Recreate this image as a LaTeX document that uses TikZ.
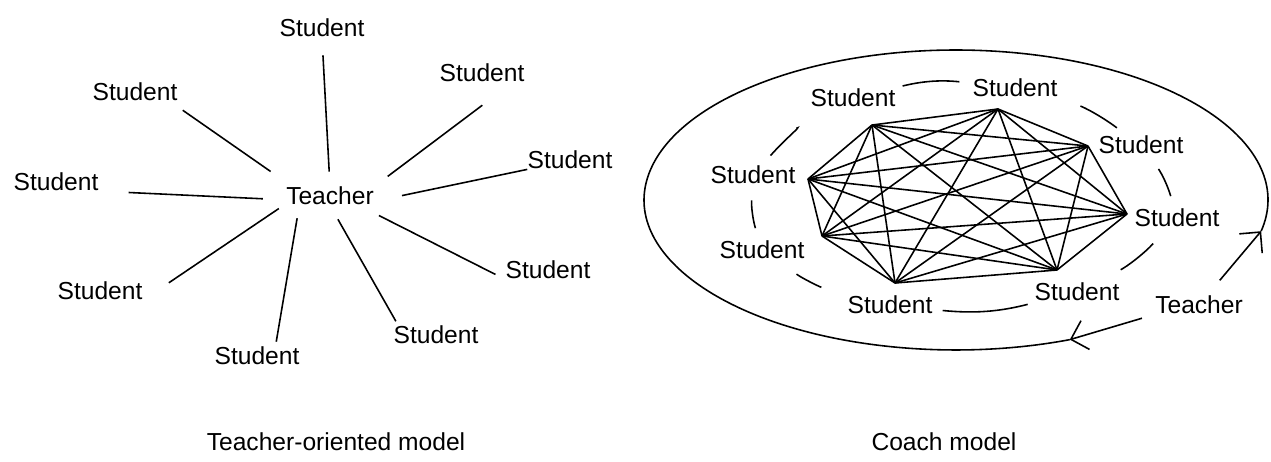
\documentclass[tikz,border=0pt]{standalone}
\usepackage{fontspec}
\setmainfont{Liberation Sans}
\usetikzlibrary{arrows.meta}

\begin{document}
\begin{tikzpicture}[x=0.02cm,y=-0.02cm,every node/.style={inner sep=0pt,font=\fontsize{14}{16}\selectfont}]
  \tikzstyle{spoke}=[line width=0.9pt]
  \tikzstyle{web}=[line width=0.9pt]
  \tikzstyle{ring}=[line width=0.9pt]
  \tikzstyle{arr}=[line width=0.9pt,-{Straight Barb[length=3mm,width=6mm]}]
  \useasboundingbox (0,0) rectangle (1271,461);

  % -- Teacher-oriented model: teacher in the middle, students round --
  \node (t) at (330,196) {Teacher};
  \node (s1) at (322,28) {Student};
  \node (s2) at (135,92) {Student};
  \node (s3) at (482,73) {Student};
  \node (s4) at (570,160) {Student};
  \node (s5) at (548,270) {Student};
  \node (s6) at (436,335) {Student};
  \node (s7) at (257,356) {Student};
  \node (s8) at (100,291) {Student};
  \node (s9) at (56,182) {Student};
  \foreach \a/\s/\b/\p/\q in {north/s1/south/3mm/3.6mm, 166/s2/-15/5.3mm/3.1mm,
      north east/s3/-17/3.4mm/7.6mm, -7/s4/south west/5.7mm/0mm,
      -18/s5/south west/4.5mm/2.2mm, south/s6/166/3.2mm/1mm,
      197/s7/27/2.6mm/1mm, 190/s8/south east/1.7mm/6.3mm,
      -175/s9/-12/4.6mm/6mm}
    \draw[spoke,shorten <=\p,shorten >=\q] (t.\a) -- (\s.\b);

  % -- Coach model: students in a ring, all linked --
  \node (stl) at (853,98) {Student};
  \node (st) at (1015,88) {Student};
  \node (sur) at (1141,145) {Student};
  \node (sr) at (1177,218) {Student};
  \node (slr) at (1077,292) {Student};
  \node (sbl) at (890,305) {Student};
  \node (sll) at (762,250) {Student};
  \node (sl) at (753,175) {Student};
  \node (tr) at (1199,305) {Teacher};

  \coordinate (v1) at ([shift={(19,27)}]stl.center);
  \coordinate (v2) at ([shift={(-17,21)}]st.center);
  \coordinate (v3) at ([shift={(-53,1)}]sur.center);
  \coordinate (v4) at ([shift={(-50,-4)}]sr.center);
  \coordinate (v5) at ([shift={(-20,-22)}]slr.center);
  \coordinate (v6) at ([shift={(5,-22)}]sbl.center);
  \coordinate (v7) at ([shift={(60,-14)}]sll.center);
  \coordinate (v8) at ([shift={(55,4)}]sl.center);
  \foreach \i in {1,...,7}{
    \pgfmathtruncatemacro\k{\i+1}
    \foreach \j in {\k,...,8}
      \draw[web] (v\i) -- (v\j);
  }

  % short bits of circle between neighbours
  \foreach \a/\b/\p/\q in {stl/st/2.2mm/2.6mm, st/sur/6mm/2.6mm, sur/sr/3.6mm/2.6mm,
      sr/slr/4.4mm/5.6mm, slr/sbl/2.4mm/2mm, sbl/sll/6mm/5mm,
      sll/sl/2.6mm/3.2mm, sl/stl/2.7mm/8.8mm}
    \draw[ring,shorten <=\p,shorten >=\q] (\a) to[bend left=10] (\b);

  % teacher's loop round the class
  \coordinate (ec) at (956,200);
  \path (ec) ++(-12:6.24cm and 3cm) coordinate (ea);
  \path (ec) ++(291.4:6.24cm and 3cm) coordinate (eb);
  \draw[ring] (ea) arc[start angle=-12,end angle=291.4,x radius=6.24cm,y radius=3cm];
  \draw[arr,shorten <=4mm] (tr.50) -- (ea);
  \draw[arr,shorten <=2.7mm] (tr.south west) -- (eb);

  \node (cap1) at (336,442) {Teacher-oriented model};
  \node (cap2) at (944,442) {Coach model};
\end{tikzpicture}
\end{document}
